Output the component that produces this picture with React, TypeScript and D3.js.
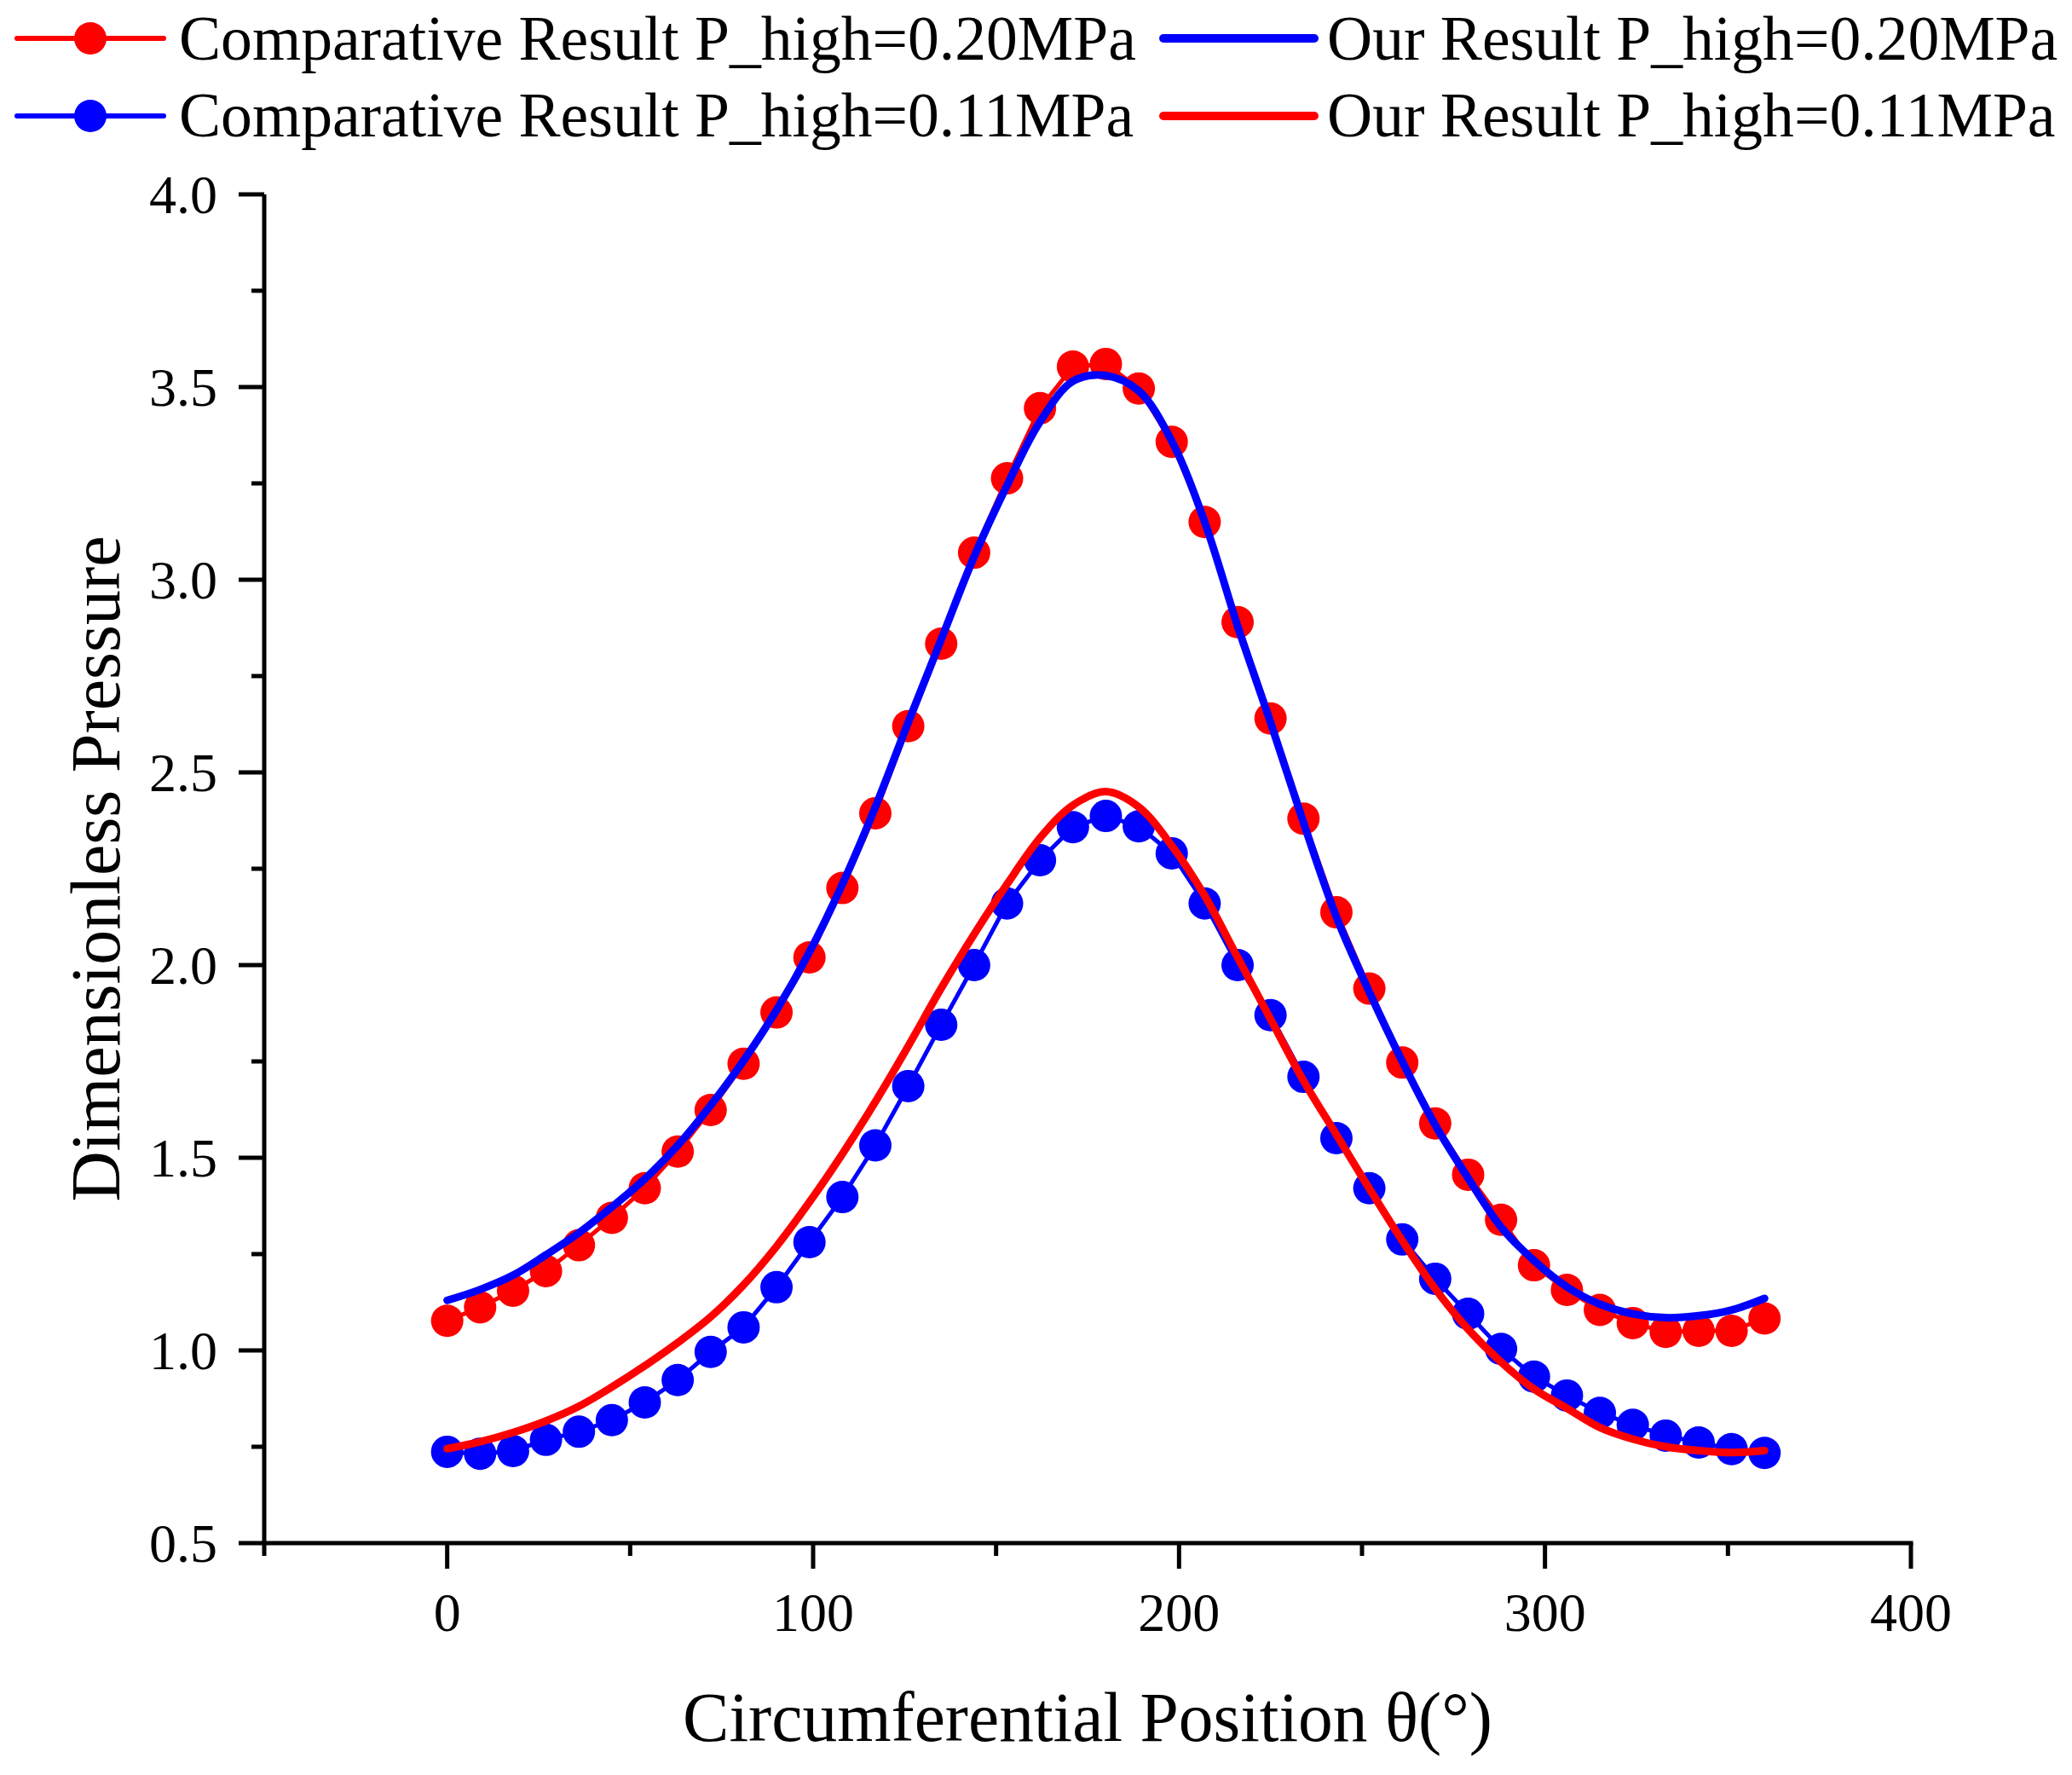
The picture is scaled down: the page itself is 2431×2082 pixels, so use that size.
import React from "react";
import * as d3 from "d3";

const theta = [0, 9, 18, 27, 36, 45, 54, 63, 72, 81, 90, 99, 108, 117, 126, 135, 144, 153, 162, 171, 180, 189, 198, 207, 216, 225, 234, 243, 252, 261, 270, 279, 288, 297, 306, 315, 324, 333, 342, 351, 360];

const compHigh = [1.077, 1.112, 1.155, 1.206, 1.273, 1.344, 1.421, 1.516, 1.624, 1.744, 1.877, 2.02, 2.2, 2.394, 2.62, 2.834, 3.07, 3.263, 3.445, 3.553, 3.56, 3.496, 3.358, 3.15, 2.89, 2.64, 2.38, 2.137, 1.939, 1.747, 1.589, 1.456, 1.339, 1.221, 1.157, 1.105, 1.071, 1.048, 1.051, 1.051, 1.083];

const compLow = [0.737, 0.732, 0.739, 0.768, 0.789, 0.819, 0.865, 0.923, 0.996, 1.06, 1.164, 1.281, 1.398, 1.532, 1.686, 1.845, 2.0, 2.16, 2.272, 2.358, 2.387, 2.36, 2.29, 2.16, 2.0, 1.87, 1.71, 1.551, 1.421, 1.288, 1.186, 1.095, 1.004, 0.932, 0.883, 0.838, 0.807, 0.779, 0.761, 0.744, 0.734];

const ourHigh = [1.13, 1.158, 1.195, 1.248, 1.305, 1.372, 1.445, 1.532, 1.636, 1.752, 1.883, 2.034, 2.21, 2.41, 2.63, 2.845, 3.06, 3.245, 3.41, 3.515, 3.53, 3.49, 3.36, 3.15, 2.88, 2.63, 2.37, 2.125, 1.93, 1.75, 1.585, 1.447, 1.32, 1.233, 1.165, 1.12, 1.095, 1.085, 1.09, 1.105, 1.135];

const ourLow = [0.745, 0.763, 0.787, 0.817, 0.855, 0.905, 0.96, 1.02, 1.087, 1.17, 1.27, 1.385, 1.51, 1.645, 1.79, 1.94, 2.08, 2.21, 2.33, 2.415, 2.45, 2.41, 2.31, 2.18, 2.02, 1.86, 1.7, 1.56, 1.42, 1.285, 1.16, 1.055, 0.97, 0.9, 0.85, 0.8, 0.77, 0.75, 0.74, 0.735, 0.74];

const xMajor = [0, 100, 200, 300, 400];
const xMinor = [-50, 50, 150, 250, 350];
const yMajor = [0.5, 1.0, 1.5, 2.0, 2.5, 3.0, 3.5, 4.0];
const yMinor = [0.75, 1.25, 1.75, 2.25, 2.75, 3.25, 3.75];

const legendItems = [
  { label: "Comparative Result P_high=0.20MPa", color: "#FF0000", marker: true, col: 0, row: 0 },
  { label: "Our Result P_high=0.20MPa", color: "#0000FF", marker: false, col: 1, row: 0 },
  { label: "Comparative Result P_high=0.11MPa", color: "#0000FF", marker: true, col: 0, row: 1 },
  { label: "Our Result P_high=0.11MPa", color: "#FF0000", marker: false, col: 1, row: 1 },
];

const FONT = "'Liberation Serif', 'Times New Roman', serif";

export default function App() {
  const W = 2431;
  const H = 2082;
  const x = d3.scaleLinear().domain([-50, 400]).range([310, 2242]);
  const y = d3.scaleLinear().domain([0.5, 4.0]).range([1810, 228]);

  const pts = (vals: number[]) => theta.map((t, i) => [t, vals[i]] as [number, number]);
  const straight = d3.line<[number, number]>().x(d => x(d[0])).y(d => y(d[1]));
  const smooth = d3
    .line<[number, number]>()
    .x(d => x(d[0]))
    .y(d => y(d[1]))
    .curve(d3.curveCatmullRom.alpha(0.5));

  const axisColor = "#000";
  const x0 = x(-50);
  const yBottom = y(0.5);

  const legendCols = [
    { lx1: 20, lx2: 192, tx: 210 },
    { lx1: 1365, lx2: 1542, tx: 1557 },
  ];
  const legendRows = [{ ly: 45, ty: 70 }, { ly: 136, ty: 160 }];

  return (
    <svg
      width={W}
      height={H}
      viewBox={`0 0 ${W} ${H}`}
      style={{ position: "absolute", left: 0, top: 0, background: "#fff" }}
      fontFamily={FONT}
    >
      <rect x={0} y={0} width={W} height={H} fill="#fff" />

      {/* comparative series */}
      {[
        { vals: compHigh, color: "#FF0000" },
        { vals: compLow, color: "#0000FF" },
      ].map((s, si) => (
        <g key={"c" + si}>
          <path d={straight(pts(s.vals)) || ""} fill="none" stroke={s.color} strokeWidth={5} />
          {pts(s.vals).map((p, i) => (
            <circle key={i} cx={x(p[0])} cy={y(p[1])} r={19} fill={s.color} />
          ))}
        </g>
      ))}

      {/* our results */}
      <path d={smooth(pts(ourHigh)) || ""} fill="none" stroke="#0000FF" strokeWidth={9} strokeLinecap="round" />
      <path d={smooth(pts(ourLow)) || ""} fill="none" stroke="#FF0000" strokeWidth={9} strokeLinecap="round" />

      {/* axes */}
      <line x1={x0} y1={y(4.0)} x2={x0} y2={yBottom} stroke={axisColor} strokeWidth={5} />
      <line x1={x0 - 2.5} y1={yBottom} x2={x(400) + 2.5} y2={yBottom} stroke={axisColor} strokeWidth={5} />

      {yMajor.map(v => (
        <g key={"ym" + v}>
          <line x1={x0 - 30} y1={y(v)} x2={x0} y2={y(v)} stroke={axisColor} strokeWidth={5} />
          <text x={255} y={y(v) + 22} fontSize={64} textAnchor="end" fill="#000">
            {v.toFixed(1)}
          </text>
        </g>
      ))}
      {yMinor.map(v => (
        <line key={"yn" + v} x1={x0 - 15} y1={y(v)} x2={x0} y2={y(v)} stroke={axisColor} strokeWidth={5} />
      ))}
      {xMajor.map(v => (
        <g key={"xm" + v}>
          <line x1={x(v)} y1={yBottom} x2={x(v)} y2={yBottom + 30} stroke={axisColor} strokeWidth={5} />
          <text x={x(v)} y={1913} fontSize={64} textAnchor="middle" fill="#000">
            {String(v)}
          </text>
        </g>
      ))}
      {xMinor.map(v => (
        <line key={"xn" + v} x1={x(v)} y1={yBottom} x2={x(v)} y2={yBottom + 15} stroke={axisColor} strokeWidth={5} />
      ))}

      {/* axis titles */}
      <text x={(x(-50) + x(400)) / 2} y={2042} fontSize={81.5} textAnchor="middle" fill="#000">
        Circumferential Position θ(°)
      </text>
      <text
        transform={`translate(140, ${(y(0.5) + y(4.0)) / 2}) rotate(-90)`}
        fontSize={82}
        textAnchor="middle"
        fill="#000"
      >
        Dimensionless Pressure
      </text>

      {/* legend */}
      {legendItems.map((it, i) => {
        const c = legendCols[it.col];
        const r = legendRows[it.row];
        return (
          <g key={"lg" + i}>
            <line
              x1={c.lx1}
              y1={r.ly}
              x2={c.lx2}
              y2={r.ly}
              stroke={it.color}
              strokeWidth={it.marker ? 6 : 10}
              strokeLinecap="round"
            />
            {it.marker && <circle cx={(c.lx1 + c.lx2) / 2} cy={r.ly} r={19} fill={it.color} />}
            <text x={c.tx} y={r.ty} fontSize={73.6} fill="#000">
              {it.label}
            </text>
          </g>
        );
      })}
    </svg>
  );
}
